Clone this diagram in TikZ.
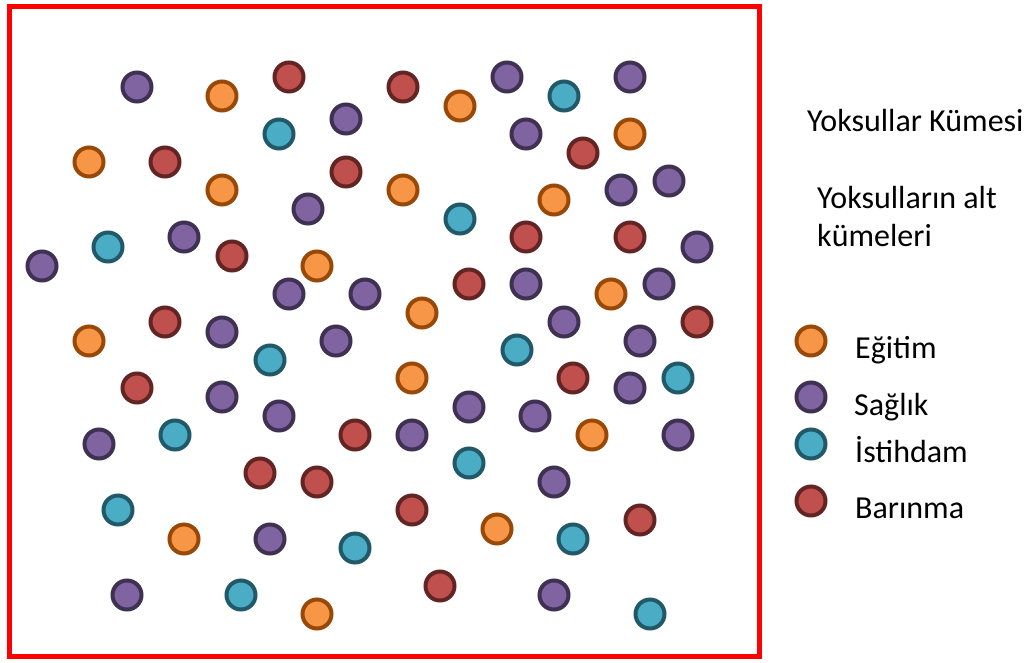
\documentclass[tikz,border=0pt]{standalone}
\usepackage{fontspec}
\setmainfont{Carlito}
\usepackage{xcolor}
\usetikzlibrary{positioning}

\definecolor{egitimfill}{HTML}{F79646}
\definecolor{egitimline}{HTML}{984807}
\definecolor{saglikfill}{HTML}{8064A2}
\definecolor{saglikline}{HTML}{3F3151}
\definecolor{istihdamfill}{HTML}{4BACC6}
\definecolor{istihdamline}{HTML}{215968}
\definecolor{barinmafill}{HTML}{C0504D}
\definecolor{barinmaline}{HTML}{632523}

\begin{document}
\begin{tikzpicture}[
        x=1pt, y=-1pt,
        font=\fontsize{32}{38}\selectfont,
        % circle styles
        yoksul/.style={circle, line width=4pt, minimum size=29pt, inner sep=0pt},
        egitim/.style={yoksul, draw=egitimline, fill=egitimfill},
        saglik/.style={yoksul, draw=saglikline, fill=saglikfill},
        istihdam/.style={yoksul, draw=istihdamline, fill=istihdamfill},
        barinma/.style={yoksul, draw=barinmaline, fill=barinmafill},
        legendtext/.style={anchor=base west, inner sep=0pt}
    ]
    \useasboundingbox (0,0) rectangle (1031,662);

    % --- 1. FRAME ---
    \draw[red, line width=5pt] (9.5,6.5) rectangle (759,656);

    % --- 2. CIRCLES ---
    \foreach \px/\py [count=\i] in {222/96, 460/106, 630/134, 89/162, 222/190, 403/190, 554/200, 317/266,
        611/294, 422/313, 89/341, 412/378, 592/435, 497/529, 184/539, 317/614}
        \node[egitim] (egitim\i) at (\px,\py) {};

    \foreach \px/\py [count=\i] in {137/87, 507/77, 630/77, 346/119, 526/134, 621/190, 669/181, 308/209,
        184/237, 697/247, 42/266, 289/294, 365/294, 526/284, 659/284, 564/322, 222/332, 336/341,
        640/341, 630/388, 222/397, 279/416, 469/407, 535/416, 99/444, 412/435, 678/435, 554/482,
        270/539, 127/595, 554/595}
        \node[saglik] (saglik\i) at (\px,\py) {};

    \foreach \px/\py [count=\i] in {564/96, 279/134, 460/219, 108/247, 270/360, 517/350, 678/378,
        175/435, 469/463, 118/510, 573/539, 355/548, 241/595, 650/614}
        \node[istihdam] (istihdam\i) at (\px,\py) {};

    \foreach \px/\py [count=\i] in {289/77, 403/87, 583/153, 165/162, 346/172, 232/256, 526/237,
        630/237, 469/284, 165/322, 697/322, 137/388, 573/378, 355/435, 260/473, 317/482, 412/510,
        640/520, 440/586}
        \node[barinma] (barinma\i) at (\px,\py) {};

    % --- 3. LEGEND ---
    \node[legendtext] (kume) at (807,131) {Yoksullar Kümesi};
    \node[legendtext] (alt1) at (817,208) {Yoksulların alt};
    \node[legendtext] (alt2) at (817,246) {kümeleri};

    \node[egitim] (legEgitim) at (811,341) {};
    \node[saglik] (legSaglik) at (811,397) {};
    \node[istihdam] (legIstihdam) at (811,444) {};
    \node[barinma] (legBarinma) at (811,501) {};

    \node[legendtext] (txtEgitim) at (855,358) {Eğitim};
    \node[legendtext] (txtSaglik) at (854,415) {Sağlık};
    \node[legendtext] (txtIstihdam) at (855,462) {İstihdam};
    \node[legendtext] (txtBarinma) at (855,518) {Barınma};

\end{tikzpicture}
\end{document}
